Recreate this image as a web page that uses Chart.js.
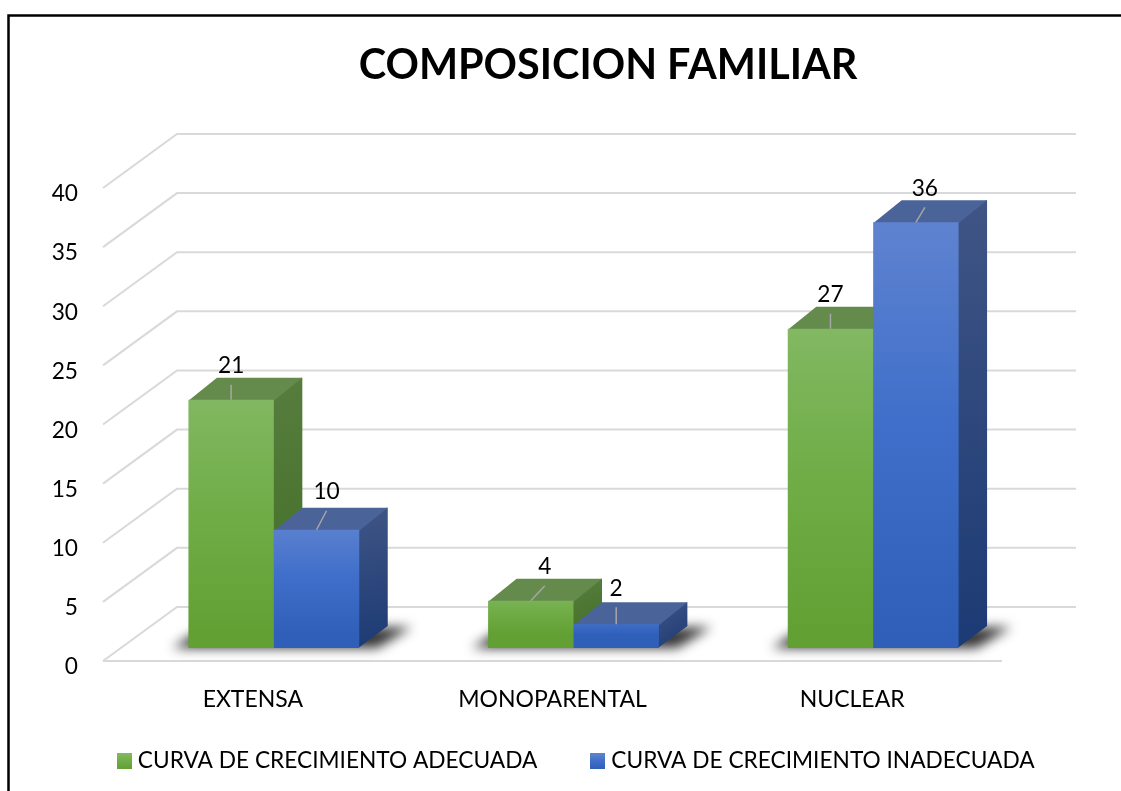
<!DOCTYPE html>
<html>
<head>
<meta charset="utf-8">
<title>Composicion familiar</title>
<script src="https://cdn.jsdelivr.net/npm/chart.js@4"></script>
<style>
  html, body { margin: 0; padding: 0; background: #fff; overflow: hidden; }
  #wrap { position: relative; width: 1121px; height: 791px; }
</style>
</head>
<body>
<div id="wrap"><canvas id="famChart" width="1121" height="791"></canvas></div>
<script>
const categories = ['EXTENSA', 'MONOPARENTAL', 'NUCLEAR'];
const adequateValues = [21, 4, 27];
const inadequateValues = [10, 2, 36];
const seriesNames = ['CURVA DE CRECIMIENTO ADECUADA', 'CURVA DE CRECIMIENTO INADECUADA'];
const yTicks = [0, 5, 10, 15, 20, 25, 30, 35, 40];

const FONT = 'Lato, Carlito, Calibri, sans-serif';
const GRID = '#d9d9d9';

// how far the bars sit behind the front plane of the axes
const BAR_DX = 21, BAR_DY = -13;
// depth of one bar, depth of the whole floor
const DEPTH_X = 28.5, DEPTH_Y = -22;
const WALL_X = 74, WALL_Y = -54;

// colours per dataset: gradient top/mid/bottom, roof, side top/bottom
const looks = [
  { front: ['#83b964', '#70ad47', '#62a033'], roof: '#648b4b', side: ['#577d3e', '#3f6d24'] },
  { front: ['#6184d0', '#3f6fca', '#2f5fb8'], roof: '#4a6399', side: ['#3f5585', '#1c3a74'] }
];

// data labels were dragged by hand in the original, so each has a leader line
const leaderDx = [[0, 14, 0], [10, 0, 9]];
const leaderDy = [[15, 15, 15], [19, 17, 15]];

function frontGradient(c, look, top, bottom) {
  const g = c.createLinearGradient(0, top, 0, bottom);
  g.addColorStop(0, look.front[0]);
  g.addColorStop(0.5, look.front[1]);
  g.addColorStop(1, look.front[2]);
  return g;
}

function barColor(idx) {
  return function (ctx) {
    const look = looks[idx];
    const y = ctx.chart.scales.y;
    if (!y || ctx.type !== 'data') return look.front[1];
    return frontGradient(ctx.chart.ctx, look, y.getPixelForValue(ctx.raw) + BAR_DY, y.getPixelForValue(0) + BAR_DY);
  };
}

// legend swatch as a small canvas, it sits closer to the text than a normal legend box
function swatch(look) {
  const s = document.createElement('canvas');
  s.width = 15;
  s.height = 16;
  const c = s.getContext('2d');
  c.fillStyle = frontGradient(c, look, 0, 16);
  c.fillRect(0, 0, 15, 16);
  return s;
}

const depthPlugin = {
  id: 'depth',
  beforeDraw(chart) {
    const c = chart.ctx;
    c.save();
    c.fillStyle = '#fff';
    c.fillRect(0, 0, chart.width, chart.height);
    // the frame, cropped on the right and at the bottom
    c.strokeStyle = '#000';
    c.lineWidth = 2.5;
    c.beginPath();
    c.moveTo(8.5, chart.height);
    c.lineTo(8.5, 15.5);
    c.lineTo(chart.width, 15.5);
    c.stroke();
    c.restore();
  },
  afterLayout(chart) {
    // title and legend are off-centre in the original
    chart.titleBlock.left = 95;
    chart.legend.left = 36;
    // the category labels reach into the legend's top padding, keep them unclipped
    chart.scales.x.bottom += 30;
  },
  beforeDatasetsDraw(chart) {
    const c = chart.ctx;
    const { left, right } = chart.chartArea;
    const y = chart.scales.y;

    // walls and floor
    c.save();
    c.strokeStyle = GRID;
    c.lineWidth = 2;
    yTicks.forEach(v => {
      const py = y.getPixelForValue(v);
      c.beginPath();
      c.moveTo(left, py);
      c.lineTo(left + WALL_X, py + WALL_Y);
      c.lineTo(right + WALL_X, py + WALL_Y);
      c.stroke();
    });
    const y0 = y.getPixelForValue(0);
    c.beginPath();
    c.moveTo(left, y0);
    c.lineTo(right, y0);
    c.stroke();
    c.restore();

    const metas = [chart.getDatasetMeta(0), chart.getDatasetMeta(1)];

    // soft shadow on the floor under each pair
    categories.forEach((_, i) => {
      const a = metas[0].data[i], b = metas[1].data[i];
      const l = a.x - a.width / 2 + BAR_DX, r = b.x + b.width / 2 + BAR_DX;
      const base = y0 + BAR_DY;
      c.save();
      c.filter = 'blur(6px)';
      c.fillStyle = 'rgba(0,0,0,0.8)';
      c.beginPath();
      c.moveTo(l - 16, base);
      c.lineTo(l + 12, base - 18);
      c.lineTo(r + DEPTH_X + 24, base + DEPTH_Y + 1);
      c.lineTo(r + 18, base);
      c.closePath();
      c.fill();
      c.restore();
    });

    // roof and side of every bar, left to right; the fronts come from Chart.js
    categories.forEach((_, i) => {
      metas.forEach((meta, ds) => {
        const bar = meta.data[i];
        const look = looks[ds];
        const l = bar.x - bar.width / 2 + BAR_DX, r = bar.x + bar.width / 2 + BAR_DX;
        const t = bar.y + BAR_DY, b = bar.base + BAR_DY;

        const sideFill = c.createLinearGradient(r, t + DEPTH_Y, r + DEPTH_X, b);
        sideFill.addColorStop(0, look.side[0]);
        sideFill.addColorStop(1, look.side[1]);
        c.fillStyle = sideFill;
        c.beginPath();
        c.moveTo(r - 1, t);
        c.lineTo(r - 1 + DEPTH_X, t + DEPTH_Y);
        c.lineTo(r + DEPTH_X, t + DEPTH_Y);
        c.lineTo(r + DEPTH_X, b + DEPTH_Y);
        c.lineTo(r - 1, b);
        c.closePath();
        c.fill();

        c.fillStyle = look.roof;
        c.beginPath();
        c.moveTo(l, t + 1);
        c.lineTo(l + DEPTH_X, t + DEPTH_Y);
        c.lineTo(r + DEPTH_X, t + DEPTH_Y);
        c.lineTo(r, t + 1);
        c.closePath();
        c.fill();
      });
    });

    c.save();
    c.translate(BAR_DX, BAR_DY);
  },
  afterDatasetsDraw(chart) {
    const c = chart.ctx;
    c.restore();

    // value labels with their leader lines
    [0, 1].forEach(ds => {
      chart.getDatasetMeta(ds).data.forEach((bar, i) => {
        const x = bar.x + BAR_DX, t = bar.y + BAR_DY;
        const ex = x + leaderDx[ds][i], ey = t - leaderDy[ds][i];
        c.strokeStyle = '#a6a6a6';
        c.lineWidth = 1.5;
        c.beginPath();
        c.moveTo(x, t);
        c.lineTo(ex, ey);
        c.stroke();
        c.fillStyle = '#000';
        c.font = '22.7px ' + FONT;
        c.textAlign = 'center';
        c.textBaseline = 'middle';
        c.fillText(chart.data.datasets[ds].data[i], ex, ey - 19);
      });
    });
  }
};

new Chart(document.getElementById('famChart').getContext('2d'), {
  type: 'bar',
  plugins: [depthPlugin],
  data: {
    labels: categories,
    datasets: [
      { label: seriesNames[0], data: adequateValues, backgroundColor: barColor(0) },
      { label: seriesNames[1], data: inadequateValues, backgroundColor: barColor(1) }
    ]
  },
  options: {
    responsive: false,
    animation: false,
    categoryPercentage: 0.57,
    barPercentage: 1,
    layout: { padding: { left: 0, right: 0, top: 0, bottom: 8.7 } },
    scales: {
      x: {
        grid: { display: false, drawTicks: false },
        border: { display: false },
        ticks: { color: '#000', font: { family: FONT, size: 23 }, padding: 25, maxRotation: 0 },
        afterFit(axis) { axis.height = 30; }
      },
      y: {
        min: 0,
        max: 40,
        afterBuildTicks(axis) { axis.ticks = yTicks.map(v => ({ value: v })); },
        grid: { display: false, drawTicks: false },
        border: { display: false },
        ticks: { color: '#000', font: { family: FONT, size: 22.7 }, padding: 25, labelOffset: 6 },
        afterFit(axis) { axis.width = 103; }
      },
      // empty axis, only keeps the room right of the plot
      spacer: {
        position: 'right',
        grid: { display: false, drawTicks: false },
        border: { display: false },
        ticks: { display: false },
        afterFit(axis) { axis.width = 119; }
      }
    },
    plugins: {
      title: {
        display: true,
        text: 'COMPOSICION FAMILIAR',
        color: '#000',
        font: { family: FONT, size: 41.4, weight: 'bold' },
        padding: { top: 41, bottom: 97.3 }
      },
      legend: {
        position: 'bottom',
        labels: {
          color: '#000',
          font: { family: FONT, size: 22.7 },
          usePointStyle: true,
          pointStyleWidth: 4,
          boxHeight: 15,
          padding: 58.6,
          generateLabels(chart) {
            return seriesNames.map((name, i) => ({
              text: name,
              datasetIndex: i,
              pointStyle: swatch(looks[i]),
              fillStyle: looks[i].front[1],
              strokeStyle: 'transparent',
              lineWidth: 0,
              fontColor: '#000'
            }));
          }
        }
      },
      tooltip: { enabled: false }
    }
  }
});
</script>
</body>
</html>
